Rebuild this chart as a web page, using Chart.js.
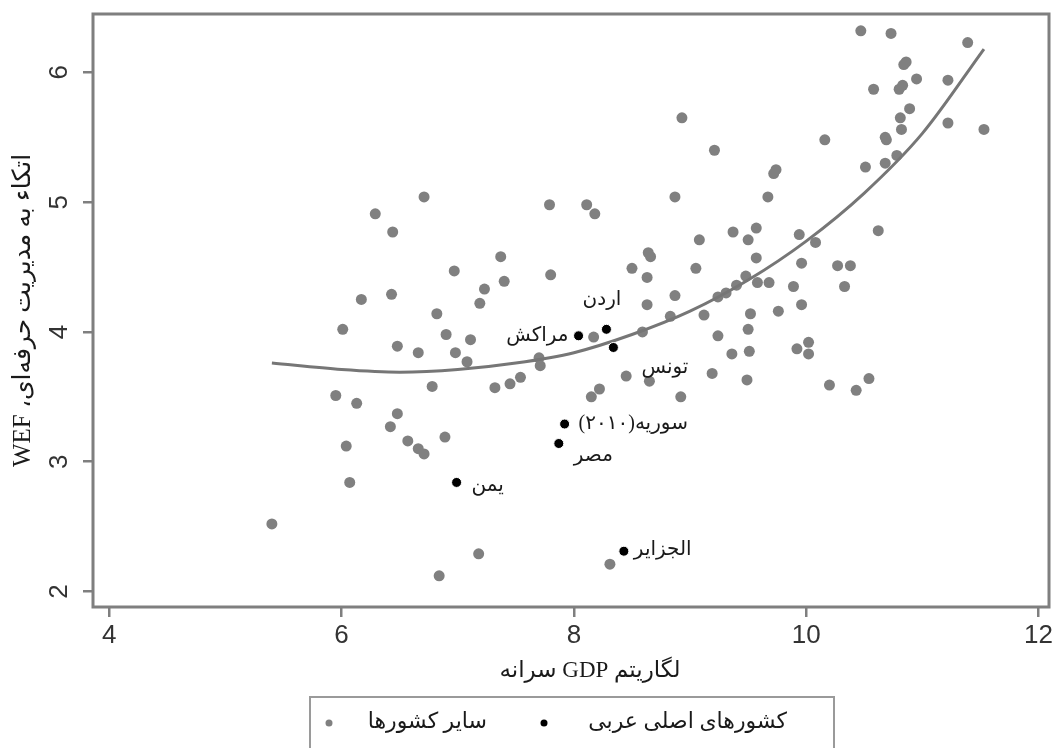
<!DOCTYPE html>
<html>
<head>
<meta charset="utf-8">
<script src="https://cdn.jsdelivr.net/npm/chart.js@4.4.0/dist/chart.umd.min.js"></script>
<style>
    html, body { margin: 0; padding: 0; background: #fff; }
    #chart { display: block; }
</style>
</head>
<body>
<canvas id="chart" width="1055" height="748" dir="rtl"></canvas>
<script>
// other countries (gray)
const otherX = [8.93, 6.71, 6.29, 6.44, 7.79, 8.11, 8.18, 8.87, 7.37, 6.97,
    7.40, 7.23, 7.19, 7.80, 8.50, 8.64, 8.66, 8.63, 8.87, 8.63,
    6.17, 6.43, 6.82, 10.47, 10.73, 11.39, 10.84, 10.86, 10.95, 11.22,
    10.58, 10.80, 10.83, 10.89, 10.81, 10.82, 11.22, 11.53, 10.16, 10.68,
    10.69, 9.21, 10.51, 10.68, 10.78, 9.72, 9.74, 9.67, 10.62, 9.08,
    9.37, 9.57, 9.50, 9.94, 10.08, 9.57, 9.05, 9.96, 10.27, 10.38,
    10.33, 9.48, 9.40, 9.58, 9.68, 9.89, 9.24, 9.31, 9.52, 9.76,
    9.96, 9.12, 9.50, 9.24, 9.36, 9.51, 9.92, 10.02, 10.02, 9.19,
    9.49, 10.20, 10.43, 10.54, 6.01, 5.95, 6.13, 6.04, 6.07, 5.40,
    6.48, 6.66, 6.90, 7.11, 6.98, 7.08, 7.70, 7.71, 6.78, 7.32,
    7.45, 7.54, 6.48, 6.42, 6.57, 6.66, 6.71, 6.89, 7.18, 6.84,
    8.31, 8.15, 8.22, 8.45, 8.65, 8.92, 8.17, 8.59, 8.83];
const otherY = [5.65, 5.04, 4.91, 4.77, 4.98, 4.98, 4.91, 5.04, 4.58, 4.47,
    4.39, 4.33, 4.22, 4.44, 4.49, 4.61, 4.58, 4.42, 4.28, 4.21,
    4.25, 4.29, 4.14, 6.32, 6.30, 6.23, 6.06, 6.08, 5.95, 5.94,
    5.87, 5.87, 5.90, 5.72, 5.65, 5.56, 5.61, 5.56, 5.48, 5.50,
    5.48, 5.40, 5.27, 5.30, 5.36, 5.22, 5.25, 5.04, 4.78, 4.71,
    4.77, 4.80, 4.71, 4.75, 4.69, 4.57, 4.49, 4.53, 4.51, 4.51,
    4.35, 4.43, 4.36, 4.38, 4.38, 4.35, 4.27, 4.30, 4.14, 4.16,
    4.21, 4.13, 4.02, 3.97, 3.83, 3.85, 3.87, 3.92, 3.83, 3.68,
    3.63, 3.59, 3.55, 3.64, 4.02, 3.51, 3.45, 3.12, 2.84, 2.52,
    3.89, 3.84, 3.98, 3.94, 3.84, 3.77, 3.80, 3.74, 3.58, 3.57,
    3.60, 3.65, 3.37, 3.27, 3.16, 3.10, 3.06, 3.19, 2.29, 2.12,
    2.21, 3.50, 3.56, 3.66, 3.62, 3.50, 3.96, 4.00, 4.12];

// main Arab countries (black)
const arabNames = ['مراکش', 'اردن', 'تونس', 'سوریه(۲۰۱۰)', 'مصر', 'یمن', 'الجزایر'];
const arabX = [8.04, 8.28, 8.34, 7.92, 7.87, 6.99, 8.43];
const arabY = [3.97, 4.02, 3.88, 3.29, 3.14, 2.84, 2.31];

// fitted curve
const fitX = [5.4, 6.0, 6.5, 7.0, 7.5, 8.0, 8.5, 9.0, 9.5, 10.0, 10.5, 11.0, 11.53];
const fitY = [3.76, 3.71, 3.69, 3.71, 3.76, 3.84, 3.98, 4.16, 4.40, 4.70, 5.07, 5.53, 6.18];

const legendLabels = ['سایر کشورها', 'کشورهای اصلی عربی'];
const xTitle = 'لگاریتم GDP سرانه';
const yTitle = 'اتکاء به مدیریت حرفه‌ای، WEF';

// label placement next to each black point: dx, dy, align
const labelOffsets = [
    [-10, 0, 'right'],
    [15, -30, 'right'],
    [28, 20, 'left'],
    [14, 0, 'left'],
    [15, 12, 'left'],
    [15, 3, 'left'],
    [10, -1, 'left']
];

const toPoints = (xs, ys) => xs.map((x, i) => ({ x: x, y: ys[i] }));

const frameColor = '#7f7f7f';
const textColor = '#1a1a1a';
const persianFont = '"Liberation Serif", "DejaVu Sans", serif';

const framePlugin = {
    id: 'frame',
    beforeDatasetsDraw(chart) {
        const { ctx, chartArea: a } = chart;
        ctx.save();
        ctx.strokeStyle = frameColor;
        ctx.lineWidth = 3;
        ctx.strokeRect(a.left, a.top, a.right - a.left, a.bottom - a.top);
        ctx.restore();
    }
};

const arabLabels = {
    id: 'arabLabels',
    afterDatasetsDraw(chart) {
        const meta = chart.getDatasetMeta(1);
        const ctx = chart.ctx;
        ctx.save();
        ctx.font = '20px ' + persianFont;
        ctx.fillStyle = textColor;
        ctx.direction = 'rtl';
        ctx.textBaseline = 'middle';
        meta.data.forEach((pt, i) => {
            const [dx, dy, align] = labelOffsets[i];
            ctx.textAlign = align;
            ctx.fillText(arabNames[i], pt.x + dx, pt.y + dy);
        });
        ctx.restore();
    }
};

// x title (sits a little right of centre) and Stata-style legend box
const bottomText = {
    id: 'bottomText',
    afterDraw(chart) {
        const { ctx, chartArea: a } = chart;
        const cx = (a.left + a.right) / 2;
        ctx.save();
        ctx.direction = 'rtl';
        ctx.textBaseline = 'middle';
        ctx.fillStyle = textColor;
        ctx.textAlign = 'center';
        ctx.font = '23px ' + persianFont;
        ctx.fillText(xTitle, cx + 19, 671);

        const left = cx - 261;
        const top = 697;
        ctx.strokeStyle = '#9a9a9a';
        ctx.lineWidth = 2;
        ctx.strokeRect(left, top, 524, 70);
        const items = [
            { ds: 0, dot: left + 19, textRight: left + 177 },
            { ds: 1, dot: left + 234, textRight: left + 477 }
        ];
        ctx.font = '22px ' + persianFont;
        ctx.textAlign = 'right';
        items.forEach(it => {
            const ds = chart.data.datasets[it.ds];
            ctx.beginPath();
            ctx.arc(it.dot, top + 26, 3.5, 0, Math.PI * 2);
            ctx.fillStyle = ds.backgroundColor;
            ctx.fill();
            ctx.fillStyle = textColor;
            ctx.fillText(legendLabels[it.ds], it.textRight, top + 25);
        });
        ctx.restore();
    }
};

new Chart(document.getElementById('chart'), {
    type: 'scatter',
    data: {
        datasets: [
            {
                label: legendLabels[0],
                data: toPoints(otherX, otherY),
                backgroundColor: '#808080',
                borderWidth: 0,
                pointRadius: 5.5,
                order: 3
            },
            {
                label: legendLabels[1],
                data: toPoints(arabX, arabY),
                backgroundColor: '#000000',
                borderColor: '#ffffff',
                borderWidth: 1,
                pointRadius: 5,
                order: 1
            },
            {
                label: 'fit',
                data: toPoints(fitX, fitY),
                showLine: true,
                borderColor: '#767676',
                borderWidth: 3,
                pointRadius: 0,
                cubicInterpolationMode: 'monotone',
                order: 2
            }
        ]
    },
    options: {
        responsive: false,
        animation: false,
        layout: { padding: { left: 0, top: 14, right: 2, bottom: 0 } },
        plugins: {
            legend: { display: false },
            tooltip: { enabled: false }
        },
        scales: {
            x: {
                type: 'linear',
                min: 3.86,
                max: 12.09,
                border: { display: false },
                grid: { drawOnChartArea: false, drawTicks: true, tickLength: 10, color: frameColor, lineWidth: 2.5 },
                ticks: {
                    stepSize: 2,
                    includeBounds: false,
                    padding: 3,
                    color: '#333',
                    font: { family: '"Liberation Sans", Arial, sans-serif', size: 26 }
                },
                afterFit(scale) {
                    scale.height = 141;
                    scale.paddingLeft = 0;
                    scale.paddingRight = 0;
                }
            },
            y: {
                type: 'linear',
                min: 1.88,
                max: 6.45,
                border: { display: false },
                grid: { drawOnChartArea: false, drawTicks: true, tickLength: 10, color: frameColor, lineWidth: 2.5 },
                ticks: {
                    stepSize: 1,
                    includeBounds: false,
                    minRotation: 90,
                    maxRotation: 90,
                    crossAlign: 'center',
                    padding: 16,
                    color: '#333',
                    font: { family: '"Liberation Sans", Arial, sans-serif', size: 26 }
                },
                title: {
                    display: true,
                    text: yTitle,
                    color: textColor,
                    font: { family: persianFont, size: 25 },
                    padding: { top: 8, bottom: 0 }
                },
                afterFit(scale) {
                    scale.width = 93;
                    scale.paddingTop = 0;
                    scale.paddingBottom = 0;
                }
            }
        }
    },
    plugins: [framePlugin, arabLabels, bottomText]
});
</script>
</body>
</html>
